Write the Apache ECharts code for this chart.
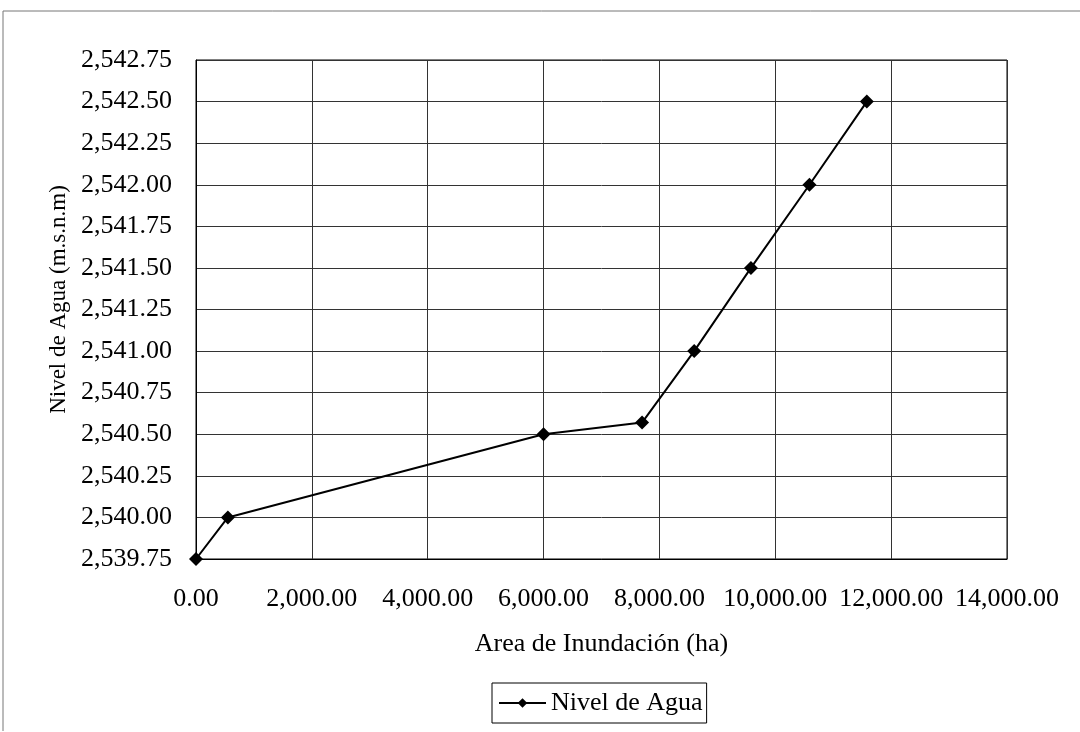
<!DOCTYPE html>
<html>
<head>
<meta charset="utf-8">
<script src="https://cdn.jsdelivr.net/npm/echarts@6/dist/echarts.min.js"></script>
<style>html,body{margin:0;padding:0;background:#fff}#c{width:1080px;height:732px}</style>
</head>
<body>
<div id="c"></div>
<script>
const seriesName = 'Nivel de Agua';
const areaHa = [0, 550, 6000, 7700, 8600, 9580, 10590, 11580];
const nivel = [2539.75, 2540.00, 2540.50, 2540.57, 2541.00, 2541.50, 2542.00, 2542.50];
const xAxisTitle = 'Area de Inundación (ha)';
const yAxisTitle = 'Nivel de Agua (m.s.n.m)';

const font = 'Liberation Serif';
const fmt = v => v.toLocaleString('en-US', {minimumFractionDigits: 2, maximumFractionDigits: 2});

const chart = echarts.init(document.getElementById('c'));
chart.setOption({
  animation: false,
  backgroundColor: '#fff',
  textStyle: {fontFamily: font, color: '#000'},
  graphic: [{
    type: 'polyline', silent: true,
    shape: {points: [[3, 731], [3, 11], [1080, 11]]},
    style: {stroke: '#777', lineWidth: 1, fill: null}
  }],
  grid: {left: 196, top: 60, right: 73, bottom: 173, show: true, borderColor: '#000', borderWidth: 1},
  xAxis: {
    type: 'value', min: 0, max: 14000, interval: 2000,
    name: xAxisTitle, nameLocation: 'middle', nameGap: 72,
    nameTextStyle: {fontFamily: font, fontSize: 26, color: '#000'},
    axisLine: {show: true, lineStyle: {color: '#000'}},
    axisTick: {show: false},
    axisLabel: {fontFamily: font, fontSize: 26, color: '#000', margin: 27, formatter: fmt},
    splitLine: {show: true, lineStyle: {color: '#333', width: 1}}
  },
  yAxis: {
    type: 'value', min: 2539.75, max: 2542.75, interval: 0.25,
    name: yAxisTitle, nameLocation: 'middle', nameGap: 126, nameRotate: 90,
    nameTextStyle: {fontFamily: font, fontSize: 23, color: '#000', padding: [0, 0, 0, 20]},
    axisLine: {show: true, lineStyle: {color: '#000'}},
    axisTick: {show: false},
    axisLabel: {fontFamily: font, fontSize: 26, color: '#000', margin: 24, formatter: fmt},
    splitLine: {show: true, lineStyle: {color: '#333', width: 1}}
  },
  legend: {
    show: true, top: 683, left: 492,
    padding: [7, 4, 7, 6],
    borderColor: '#000', borderWidth: 1, borderRadius: 0,
    itemWidth: 47, itemHeight: 12, itemGap: 6,
    textStyle: {fontFamily: font, fontSize: 26, color: '#000'},
    data: [seriesName]
  },
  series: [{
    name: seriesName, type: 'line',
    data: areaHa.map((x, i) => [x, nivel[i]]),
    symbol: 'diamond', symbolSize: 14,
    lineStyle: {color: '#000', width: 2},
    itemStyle: {color: '#000'},
    clip: false
  }]
});
</script>
</body>
</html>
